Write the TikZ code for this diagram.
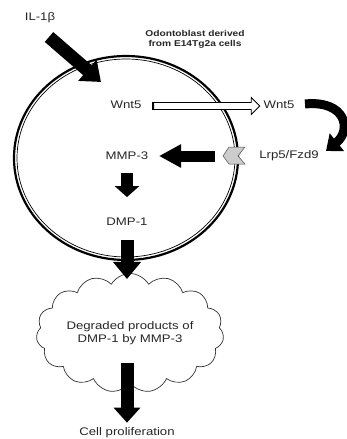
\documentclass[tikz,border=0pt]{standalone}
\usepackage{fontspec}
\setmainfont{Liberation Sans}[FakeStretch=1.2]
\usepackage{tikz}
\usetikzlibrary{positioning, arrows.meta, shapes.arrows, shapes.symbols}

\begin{document}
\begin{tikzpicture}[
    x=1pt, y=-1pt,
    font=\fontsize{11}{13}\selectfont,
    labelnode/.style={inner sep=1pt, text=black!85},
    blockarrow/.style={line width=12pt, -{Triangle[length=16pt, width=25pt]}},
    openarrow/.style={single arrow, draw=black, fill=white, line width=0.8pt, inner sep=3pt, minimum width=17pt, single arrow head extend=5pt, single arrow head indent=0pt},
]
\useasboundingbox (0,0) rectangle (346,439);
% cell outline
\draw[line width=2.2pt] (126,158) ellipse [x radius=112pt, y radius=102pt];
\draw[line width=0.7pt] (126,158) ellipse [x radius=109pt, y radius=99pt];
% labels
\node[labelnode](il) at (40,18){IL-1β};
\node[labelnode, font=\bfseries\fontsize{8.5}{10}\selectfont, align=center](cells) at (195,39){Odontoblast derived\\from E14Tg2a cells};
\node[labelnode](wntin) at (126,105){Wnt5};
\node[labelnode](wntout) at (279,105){Wnt5};
\node[labelnode](lrp) at (289,156){Lrp5/Fzd9};
\node[labelnode](mmp) at (127,156){MMP-3};
\node[labelnode](dmp) at (127,222){DMP-1};
\node[cloud, draw=black!80, line width=0.7pt, cloud puffs=15, cloud puff arc=120, aspect=1.8, minimum width=158pt, minimum height=88pt, inner sep=0pt, align=center, text=black!85](deg) at (130,333){Degraded products of\\DMP-1 by MMP-3};
\node[labelnode](cell) at (127,433){Cell proliferation};
% receptor
\draw[fill=gray!40, draw=gray!60!black, line width=0.5pt] (223,156) -- (229,147) -- (245,147) -- (238,156) -- (245,164) -- (229,164) -- cycle;
% secretion
\node[openarrow, minimum height=106pt](sec) at (205,106){};
\draw[line width=2pt] (sec.before tail) -- (sec.after tail);
% arrows
\coordinate (ilstart) at (49,37);
\coordinate (ilend) at (101,82);
\draw[blockarrow, line width=13pt, -{Triangle[length=18pt, width=27pt]}] (ilstart) -- (ilend);
\coordinate (bindstart) at (305,104);
\coordinate (bindend) at (326,151);
\draw[line width=9pt, -{Triangle[length=14pt, width=22pt]}] (bindstart) .. controls (346,100) and (352,130) .. (bindend);
\coordinate (sigstart) at (215,156);
\coordinate (sigend) at (159,156);
\draw[blockarrow, line width=11pt, -{Triangle[length=22pt, width=22pt]}] (sigstart) -- (sigend);
\path (mmp.south) ++(0,12) coordinate (m1) ++(0,24) coordinate (m2);
\draw[blockarrow, -{Triangle[length=11pt, width=24pt]}] (m1) -- (m2);
\path (dmp.south) ++(0,13) coordinate (d1) ++(0,39) coordinate (d2);
\draw[blockarrow, line width=13pt, -{Triangle[length=17pt, width=27pt]}] (d1) -- (d2);
\coordinate (c1) at (127,363);
\path (cell.north) ++(0,-4) coordinate (c2);
\draw[blockarrow, line width=13pt, -{Triangle[length=15pt, width=26pt]}] (c1) -- (c2);
\end{tikzpicture}
\end{document}
